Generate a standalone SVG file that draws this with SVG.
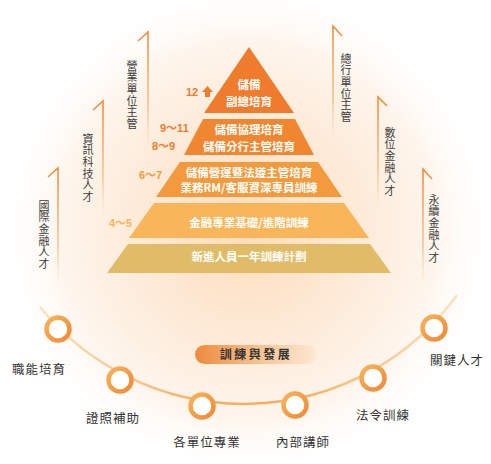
<svg xmlns="http://www.w3.org/2000/svg" width="491" height="464" viewBox="0 0 491 464">
<defs>
<radialGradient id="bg" cx="248" cy="230" r="250" gradientUnits="userSpaceOnUse">
<stop offset="0" stop-color="#fddcba"/>
<stop offset="0.4" stop-color="#fde9d5"/>
<stop offset="0.75" stop-color="#fef5ec"/>
<stop offset="1" stop-color="#ffffff" stop-opacity="0"/>
</radialGradient>
<linearGradient id="vl" x1="0" y1="0" x2="0" y2="1">
<stop offset="0" stop-color="#f08a3a"/>
<stop offset="0.65" stop-color="#f5b070" stop-opacity="0.7"/>
<stop offset="1" stop-color="#f8c08a" stop-opacity="0"/>
</linearGradient>
<linearGradient id="arcg" x1="40" y1="0" x2="457" y2="0" gradientUnits="userSpaceOnUse">
<stop offset="0" stop-color="#fde2bf"/>
<stop offset="0.4" stop-color="#f6ae62"/>
<stop offset="0.6" stop-color="#f6ae62"/>
<stop offset="1" stop-color="#fde2bf"/>
</linearGradient>
<linearGradient id="ring" x1="0" y1="0" x2="1" y2="1">
<stop offset="0" stop-color="#f7b35a"/>
<stop offset="1" stop-color="#ee8a38"/>
</linearGradient>
<linearGradient id="pill" x1="0" y1="0" x2="1" y2="0">
<stop offset="0" stop-color="#ee8a3c"/>
<stop offset="0.5" stop-color="#f8c08c"/>
<stop offset="1" stop-color="#fde9d6"/>
</linearGradient>
<style>
.vt{font-family:"Noto Sans CJK TC","Noto Sans CJK SC",sans-serif;font-size:11px;fill:#3c3c3c;writing-mode:vertical-rl;letter-spacing:0.7px}
.pt{font-family:"Noto Sans CJK TC","Noto Sans CJK SC",sans-serif;font-size:11.5px;font-weight:bold;fill:#ffffff;text-anchor:middle}
.num{font-family:"Liberation Sans","Noto Sans CJK TC",sans-serif;font-size:11px;font-weight:bold}
.bl{font-family:"Noto Sans CJK TC","Noto Sans CJK SC",sans-serif;font-size:12.5px;fill:#333333;text-anchor:middle;letter-spacing:1px}
.vline{fill:none;stroke:url(#vl);stroke-width:1.6}
.rg{fill:#ffffff;stroke:url(#ring);stroke-width:4.5}
</style>
</defs>
<rect x="0" y="0" width="491" height="464" fill="#ffffff"/>
<circle cx="248" cy="230" r="250" fill="url(#bg)"/>

<g id="connectors">
<path d="M40,307 A263,263 0 0 0 457,295" fill="none" stroke="url(#arcg)" stroke-width="2.5"/>
<path class="vline" d="M138,41 L148,32 L148,150"/>
<path class="vline" d="M93,110 L103,101 L103,215"/>
<path class="vline" d="M48,177 L58,168 L58,285"/>
<path class="vline" d="M342,36 L333,26 L333,140"/>
<path class="vline" d="M387,106 L378,97 L378,210"/>
<path class="vline" d="M432,179 L423,169 L423,285"/>
</g>

<g id="side-labels">
<text class="vt" x="132" y="60">營業單位主管</text>
<text class="vt" x="88" y="133">資訊科技人才</text>
<text class="vt" x="44" y="200">國際金融人才</text>
<text class="vt" x="346" y="53">總行單位主管</text>
<text class="vt" x="390" y="127">數位金融人才</text>
<text class="vt" x="434" y="194">永續金融人才</text>
</g>

<g id="layer1">
<polygon points="249,47 294,113 204,113" fill="#ee7c2c"/>
<text class="pt" x="249" y="89">儲備</text>
<text class="pt" x="249" y="106">副總培育</text>
<text class="num" x="186" y="96" fill="#ee7c2c">12</text>
<polygon points="207.5,86 213,92 210,92 210,97 205,97 205,92 202,92" fill="#ee7c2c"/>
</g>
<g id="layer2">
<polygon points="203,119 295,119 314,155 184,155" fill="#f0862f"/>
<text class="pt" x="249" y="134">儲備協理培育</text>
<text class="pt" x="249" y="151">儲備分行主管培育</text>
<text class="num" x="160" y="132" fill="#ee7c2c">9～11</text>
<text class="num" x="152" y="150" fill="#ee7c2c">8～9</text>
</g>
<g id="layer3">
<polygon points="180,162 318,162 342,197 156,197" fill="#f39a3d"/>
<text class="pt" x="249" y="177">儲備營運暨法遵主管培育</text>
<text class="pt" x="249" y="192">業務RM/客服資深專員訓練</text>
<text class="num" x="139" y="179" fill="#f39a3d">6～7</text>
</g>
<g id="layer4">
<polygon points="154,203 344,203 369,238 129,238" fill="#f8b55a"/>
<text class="pt" x="249" y="227">金融專業基礎/進階訓練</text>
<text class="num" x="109" y="227" fill="#f8b55a">4～5</text>
</g>
<g id="layer5">
<polygon points="128,244 370,244 391,273 107,273" fill="#e1bc68"/>
<text class="pt" x="249" y="261">新進人員一年訓練計劃</text>
</g>

<g id="center-pill">
<rect x="195" y="345" width="122" height="19" rx="9.5" fill="url(#pill)"/>
<text x="256" y="359" font-family="'Noto Sans CJK TC',sans-serif" font-size="12" font-weight="bold" fill="#333333" text-anchor="middle" letter-spacing="2.5">訓練與發展</text>
</g>

<g id="node1"><circle class="rg" cx="58" cy="329" r="11.5"/><text class="bl" x="39" y="374">職能培育</text></g>
<g id="node2"><circle class="rg" cx="120" cy="380" r="11.5"/><text class="bl" x="113" y="423">證照補助</text></g>
<g id="node3"><circle class="rg" cx="202" cy="406" r="11.5"/><text class="bl" x="207" y="447">各單位專業</text></g>
<g id="node4"><circle class="rg" cx="295" cy="405" r="11.5"/><text class="bl" x="303" y="447">內部講師</text></g>
<g id="node5"><circle class="rg" cx="373" cy="378" r="11.5"/><text class="bl" x="383" y="420">法令訓練</text></g>
<g id="node6"><circle class="rg" cx="434" cy="328" r="11.5"/><text class="bl" x="457" y="365">關鍵人才</text></g>
</svg>
